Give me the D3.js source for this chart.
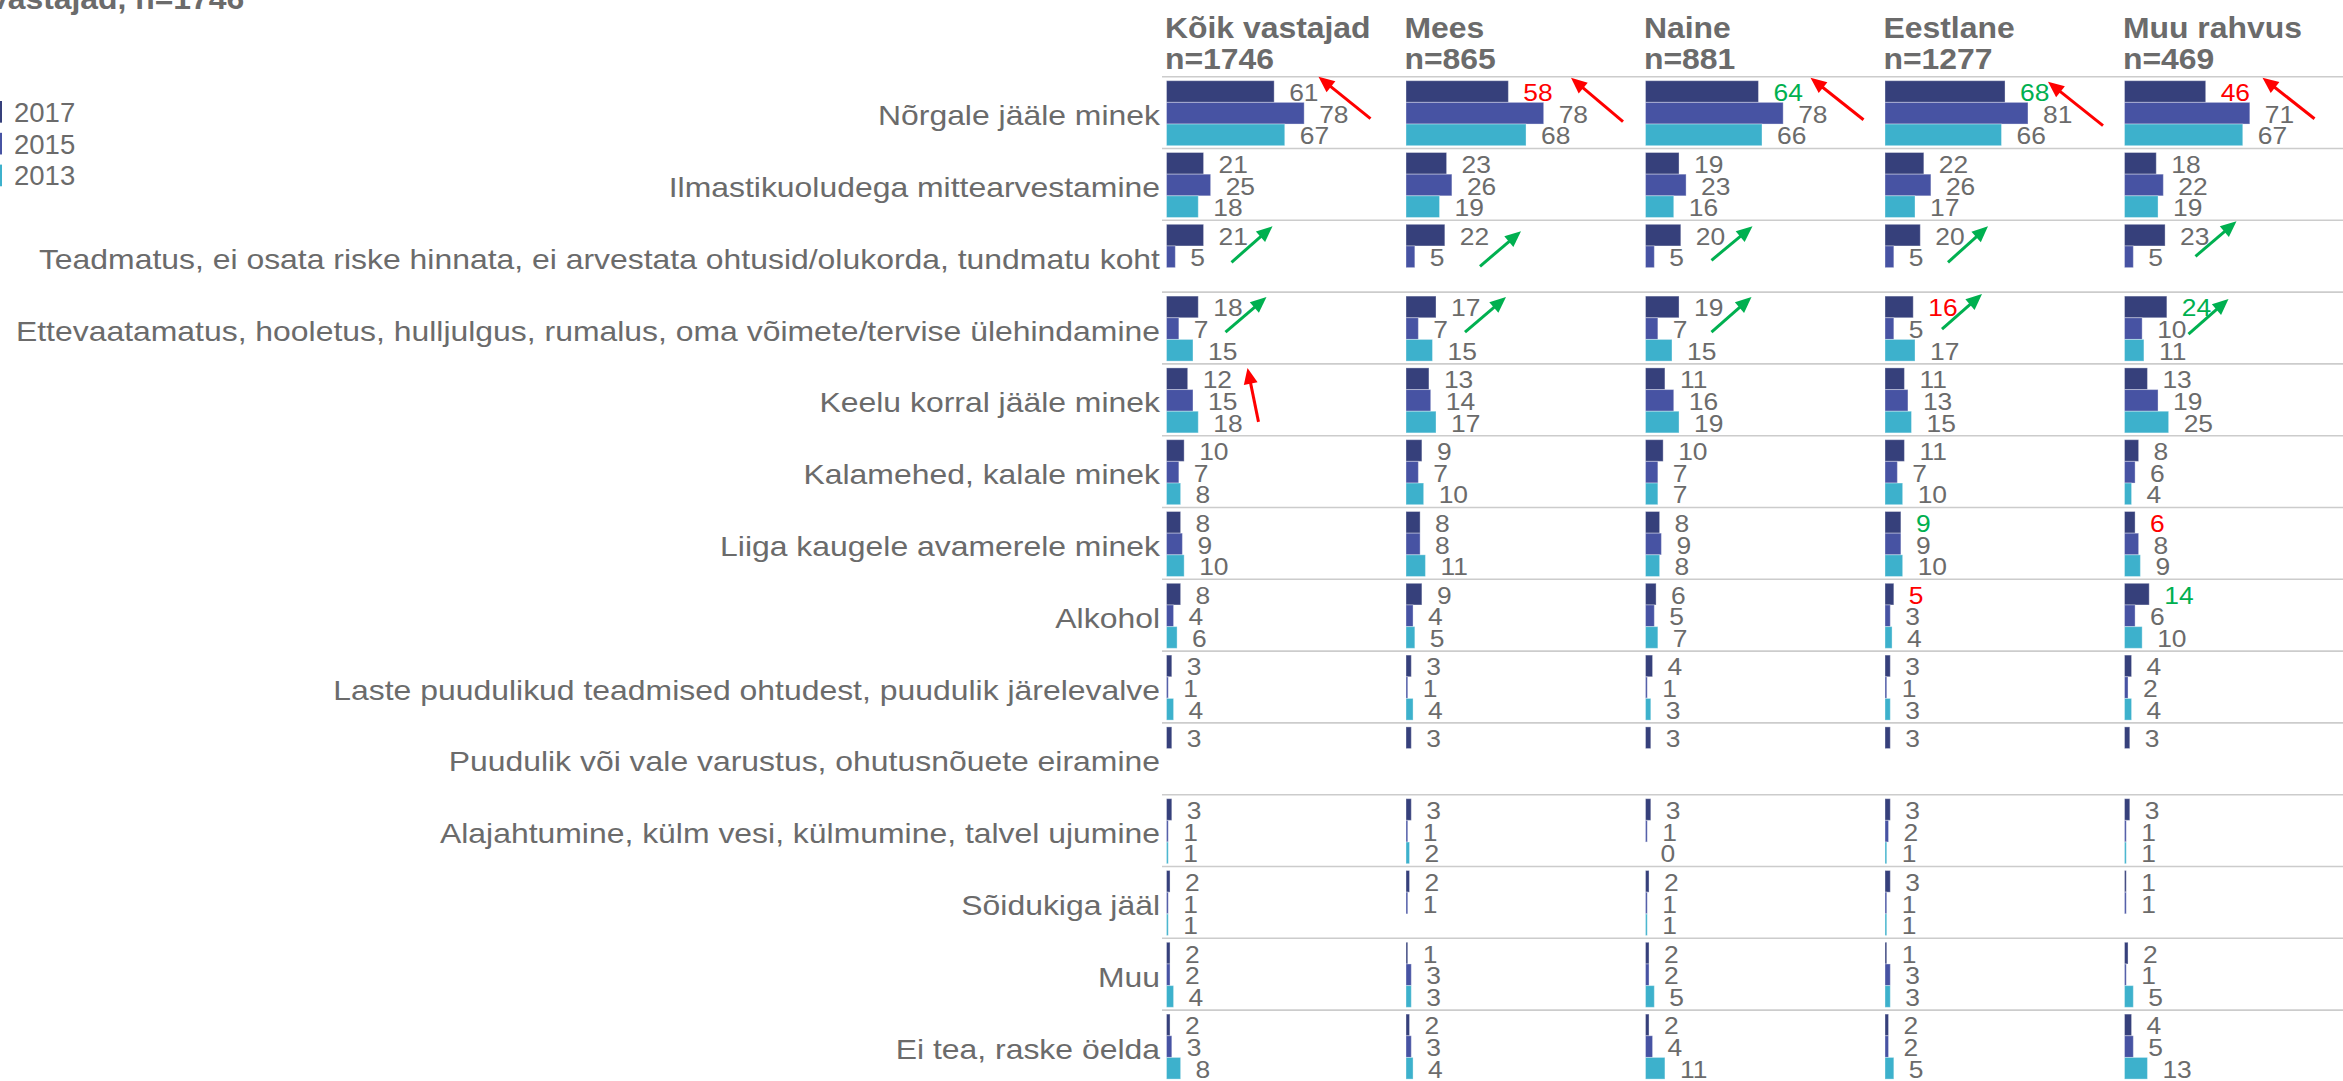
<!DOCTYPE html>
<html>
<head>
<meta charset="utf-8">
<script src="https://cdn.jsdelivr.net/npm/d3@7"></script>
<style>
  html, body { margin: 0; padding: 0; background: #ffffff; overflow: hidden; }
  svg { display: block; }
  text { font-family: "Liberation Sans", Arial, Helvetica, sans-serif; }
</style>
</head>
<body>
<svg id="chart" width="2343" height="1081"></svg>
<script>
// ---------------- DATA ----------------
const categories = [
  "Nõrgale jääle minek",
  "Ilmastikuoludega mittearvestamine",
  "Teadmatus, ei osata riske hinnata, ei arvestata ohtusid/olukorda, tundmatu koht",
  "Ettevaatamatus, hooletus, hulljulgus, rumalus, oma võimete/tervise ülehindamine",
  "Keelu korral jääle minek",
  "Kalamehed, kalale minek",
  "Liiga kaugele avamerele minek",
  "Alkohol",
  "Laste puudulikud teadmised ohtudest, puudulik järelevalve",
  "Puudulik või vale varustus, ohutusnõuete eiramine",
  "Alajahtumine, külm vesi, külmumine, talvel ujumine",
  "Sõidukiga jääl",
  "Muu",
  "Ei tea, raske öelda"
];
const years = ["2017", "2015", "2013"];
const yearColors = ["#36407b", "#4753a3", "#3db1cc"];
const groups = ["Kõik vastajad", "Mees", "Naine", "Eestlane", "Muu rahvus"];
const groupN = ["n=1746", "n=865", "n=881", "n=1277", "n=469"];
const title = "Kõik vastajad, n=1746";

// values per group: rows = categories, columns = [2017, 2015, 2013]; null = no bar/label
const valuesKoik = [
  [61, 78, 67], [21, 25, 18], [21, 5, null], [18, 7, 15], [12, 15, 18], [10, 7, 8], [8, 9, 10],
  [8, 4, 6], [3, 1, 4], [3, null, null], [3, 1, 1], [2, 1, 1], [2, 2, 4], [2, 3, 8]
];
const valuesMees = [
  [58, 78, 68], [23, 26, 19], [22, 5, null], [17, 7, 15], [13, 14, 17], [9, 7, 10], [8, 8, 11],
  [9, 4, 5], [3, 1, 4], [3, null, null], [3, 1, 2], [2, 1, null], [1, 3, 3], [2, 3, 4]
];
const valuesNaine = [
  [64, 78, 66], [19, 23, 16], [20, 5, null], [19, 7, 15], [11, 16, 19], [10, 7, 7], [8, 9, 8],
  [6, 5, 7], [4, 1, 3], [3, null, null], [3, 1, 0], [2, 1, 1], [2, 2, 5], [2, 4, 11]
];
const valuesEestlane = [
  [68, 81, 66], [22, 26, 17], [20, 5, null], [16, 5, 17], [11, 13, 15], [11, 7, 10], [9, 9, 10],
  [5, 3, 4], [3, 1, 3], [3, null, null], [3, 2, 1], [3, 1, 1], [1, 3, 3], [2, 2, 5]
];
const valuesMuu = [
  [46, 71, 67], [18, 22, 19], [23, 5, null], [24, 10, 11], [13, 19, 25], [8, 6, 4], [6, 8, 9],
  [14, 6, 10], [4, 2, 4], [3, null, null], [3, 1, 1], [1, 1, null], [2, 1, 5], [4, 5, 13]
];
const groupValues = [valuesKoik, valuesMees, valuesNaine, valuesEestlane, valuesMuu];

// significant changes of the 2017 value: [groupIndex, categoryIndex, "up"|"down"]
const highlights = [
  [1, 0, "down"], [2, 0, "up"], [3, 0, "up"], [4, 0, "down"],
  [3, 3, "down"], [4, 3, "up"],
  [3, 6, "up"], [4, 6, "down"],
  [3, 7, "down"], [4, 7, "up"]
];
// trend arrows: [groupIndex, categoryIndex, color, tail dx, tail dy, tip dx, tip dy] (offsets in panel/row)
const arrows = [
  [0, 0, "red", 204, 42, 152, 0], [1, 0, "red", 217, 45, 165, 1], [2, 0, "red", 218, 43, 165, 1],
  [3, 0, "red", 218, 49, 163, 5], [4, 0, "red", 190, 42, 138, 1],
  [0, 2, "green", 65, 42, 106, 6], [1, 2, "green", 74, 46, 115, 11], [2, 2, "green", 66, 40, 107, 6],
  [3, 2, "green", 63, 42, 103, 6], [4, 2, "green", 71, 36, 112, 1],
  [0, 3, "green", 59, 40, 100, 5], [1, 3, "green", 59, 40, 100, 5], [2, 3, "green", 66, 40, 106, 5],
  [3, 3, "green", 57, 37, 97, 2], [4, 3, "green", 64, 42, 104, 7],
  [0, 4, "red", 92, 58, 81, 4]
];

// ---------------- LAYOUT ----------------
const W = 2343, H = 1081;
const textGrey = "#6b6b6b";
const RED = "#ff0000", GREEN = "#00b050";
const svg = d3.select("#chart");

const rowTop = 76.7, rowStep = 71.8;
const y = d3.scaleBand().domain(categories).range([rowTop, rowTop + rowStep * categories.length]).padding(0);
const yInner = d3.scaleBand().domain(years).range([4, 4 + 65]).padding(0);
const panel = d3.scaleBand().domain(groups).range([1166.5, 1166.5 + 239.5 * groups.length]).padding(0);
const x = d3.scaleLinear().domain([0, 100]).range([0, 176.5]);
const color = d3.scaleOrdinal().domain(years).range(yearColors);

function addText(sel, tx, ty, str, o) {
  return sel.append("text")
    .attr("transform", `translate(${tx},${ty}) scale(${o.sx || 1},1)`)
    .attr("font-size", o.size)
    .attr("font-weight", o.bold ? "bold" : "normal")
    .attr("text-anchor", o.anchor || "start")
    .attr("fill", o.fill || textGrey)
    .text(str);
}

// title (partly outside the page, as in the reference)
addText(svg, -88, 9, title, { size: 29, bold: true, sx: 1.1 });

// legend
const legend = svg.append("g");
years.forEach((yr, i) => {
  const ly = 101 + i * 31.8;
  legend.append("rect").attr("x", -20).attr("y", ly).attr("width", 22).attr("height", yInner.bandwidth()).attr("fill", color(yr));
  addText(legend, 14, ly + 20.7, yr, { size: 27.5 });
});

// category labels
categories.forEach(c => {
  addText(svg, 1160, y(c) + y.bandwidth() / 2 + 12.5, c, { size: 28.5, anchor: "end", sx: 1.12 });
});

// separator lines
const seps = d3.range(categories.length + 1).map(i => rowTop + i * rowStep);
svg.append("g").selectAll("line").data(seps).join("line")
  .attr("x1", 1162).attr("x2", W).attr("y1", d => d).attr("y2", d => d)
  .attr("stroke", "#cccccc").attr("stroke-width", 1.6);

// panels
groups.forEach((g, gi) => {
  const px = panel(g);
  const pg = svg.append("g").attr("transform", `translate(${px},0)`);
  addText(pg, -1.5, 37.7, g, { size: 29, bold: true, sx: 1.1 });
  addText(pg, -1.5, 69.3, groupN[gi], { size: 29, bold: true, sx: 1.1 });

  const cells = [];
  categories.forEach((c, ci) => {
    years.forEach((yr, yi) => {
      const v = groupValues[gi][ci][yi];
      if (v === null || v === undefined) return;
      const hl = highlights.find(h => h[0] === gi && h[1] === ci && yi === 0);
      cells.push({ c, yr, v, col: hl ? (hl[2] === "up" ? GREEN : RED) : textGrey });
    });
  });

  pg.append("g").selectAll("rect").data(cells.filter(d => d.v > 0)).join("rect")
    .attr("x", 0)
    .attr("y", d => y(d.c) + yInner(d.yr))
    .attr("width", d => x(d.v))
    .attr("height", yInner.bandwidth())
    .attr("fill", d => color(d.yr))
    .attr("stroke", "rgba(255,255,255,0.35)")
    .attr("stroke-width", 1);

  const lg = pg.append("g");
  cells.forEach(d => {
    addText(lg, x(d.v) + 15, y(d.c) + yInner(d.yr) + yInner.bandwidth() / 2 + 9.5, String(d.v),
      { size: 24, sx: 1.1, fill: d.col });
  });
});

// arrows
const ag = svg.append("g");
arrows.forEach(a => {
  const px = panel(groups[a[0]]), ry = y(categories[a[1]]);
  const col = a[2] === "red" ? RED : GREEN;
  const x1 = px + a[3], y1 = ry + a[4], x2 = px + a[5], y2 = ry + a[6];
  const ang = Math.atan2(y2 - y1, x2 - x1);
  const hl = 16, hw = 7;
  const bx = x2 - hl * Math.cos(ang), by = y2 - hl * Math.sin(ang);
  ag.append("line").attr("x1", x1).attr("y1", y1).attr("x2", bx + 1 * Math.cos(ang)).attr("y2", by + 1 * Math.sin(ang))
    .attr("stroke", col).attr("stroke-width", 3);
  const pts = [
    [x2, y2],
    [bx + hw * Math.sin(ang), by - hw * Math.cos(ang)],
    [bx - hw * Math.sin(ang), by + hw * Math.cos(ang)]
  ];
  ag.append("polygon").attr("points", pts.map(p => p.join(",")).join(" ")).attr("fill", col);
});
</script>
</body>
</html>
